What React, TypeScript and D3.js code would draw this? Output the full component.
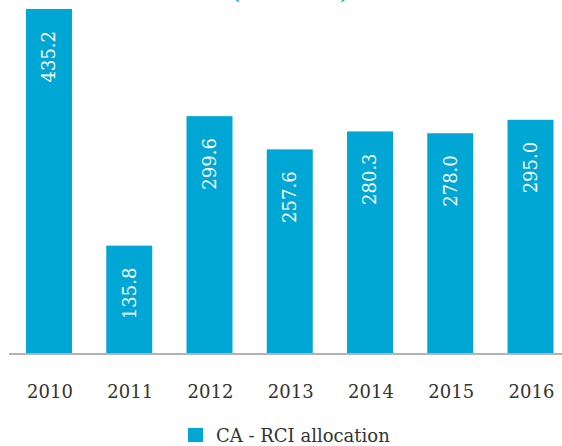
import {useEffect, useRef} from "react";
import * as d3 from "d3";

// chart data
const years = ["2010", "2011", "2012", "2013", "2014", "2015", "2016"];
const allocation = [435.2, 135.8, 299.6, 257.6, 280.3, 278.0, 295.0];
const seriesName = "CA - RCI allocation";
const titleText = "(€ million)";

const W = 562;
const H = 446;
const BLUE = "#00a7d5";
const FONT = "'DejaVu Serif', serif";

const App = () => {
    const svgRef = useRef<SVGSVGElement>(null);

    useEffect(() => {
        const svg = d3.select(svgRef.current);
        svg.selectAll("*").remove();

        const x = d3.scaleBand<string>()
            .domain(years)
            .range([26, 553.5])
            .paddingInner(0.427)
            .paddingOuter(0);

        const y = d3.scaleLinear().domain([0, 450]).range([353, 353 - 450 * 0.7905]);

        // title, mostly cut off at the top
        svg.append("text")
            .attr("x", 290)
            .attr("y", -1)
            .attr("text-anchor", "middle")
            .attr("fill", BLUE)
            .style("font-family", FONT)
            .style("font-weight", "bold")
            .style("font-size", "20px")
            .text(titleText);

        const bars = svg.append("g");
        bars.selectAll("rect")
            .data(allocation)
            .enter()
            .append("rect")
            .attr("x", (d, i) => x(years[i])!)
            .attr("y", d => y(d))
            .attr("width", x.bandwidth())
            .attr("height", d => y(0) - y(d))
            .attr("fill", BLUE);

        // value labels rotated inside the bars
        bars.selectAll("text")
            .data(allocation)
            .enter()
            .append("text")
            .attr("transform", (d, i) => `translate(${x(years[i])! + x.bandwidth() / 2},${y(d) + 22}) rotate(-90)`)
            .attr("dy", "0.36em")
            .attr("text-anchor", "end")
            .attr("fill", "#fff")
            .style("font-family", FONT)
            .style("font-size", "18px")
            .text(d => d.toFixed(1));

        // baseline
        svg.append("line")
            .attr("x1", 9)
            .attr("x2", W)
            .attr("y1", 354)
            .attr("y2", 354)
            .attr("stroke", "#9a9a9a")
            .attr("stroke-width", 1.6);

        // year labels
        svg.append("g")
            .selectAll("text")
            .data(years)
            .enter()
            .append("text")
            .attr("x", d => x(d)! + x.bandwidth() / 2 + 1)
            .attr("y", 398)
            .attr("text-anchor", "middle")
            .attr("fill", "#333")
            .style("font-family", FONT)
            .style("font-size", "18px")
            .text(d => d);

        // legend
        const legend = svg.append("g");
        legend.append("rect")
            .attr("x", 188)
            .attr("y", 428)
            .attr("width", 15)
            .attr("height", 14)
            .attr("fill", BLUE);
        legend.append("text")
            .attr("x", 216)
            .attr("y", 442)
            .attr("fill", "#333")
            .style("font-family", FONT)
            .style("font-size", "18px")
            .text(seriesName);
    }, []);

    return (
        <svg ref={svgRef} width={W} height={H}
             style={{position: "absolute", left: 0, top: 0, overflow: "hidden"}}/>
    );
};

export default App;
